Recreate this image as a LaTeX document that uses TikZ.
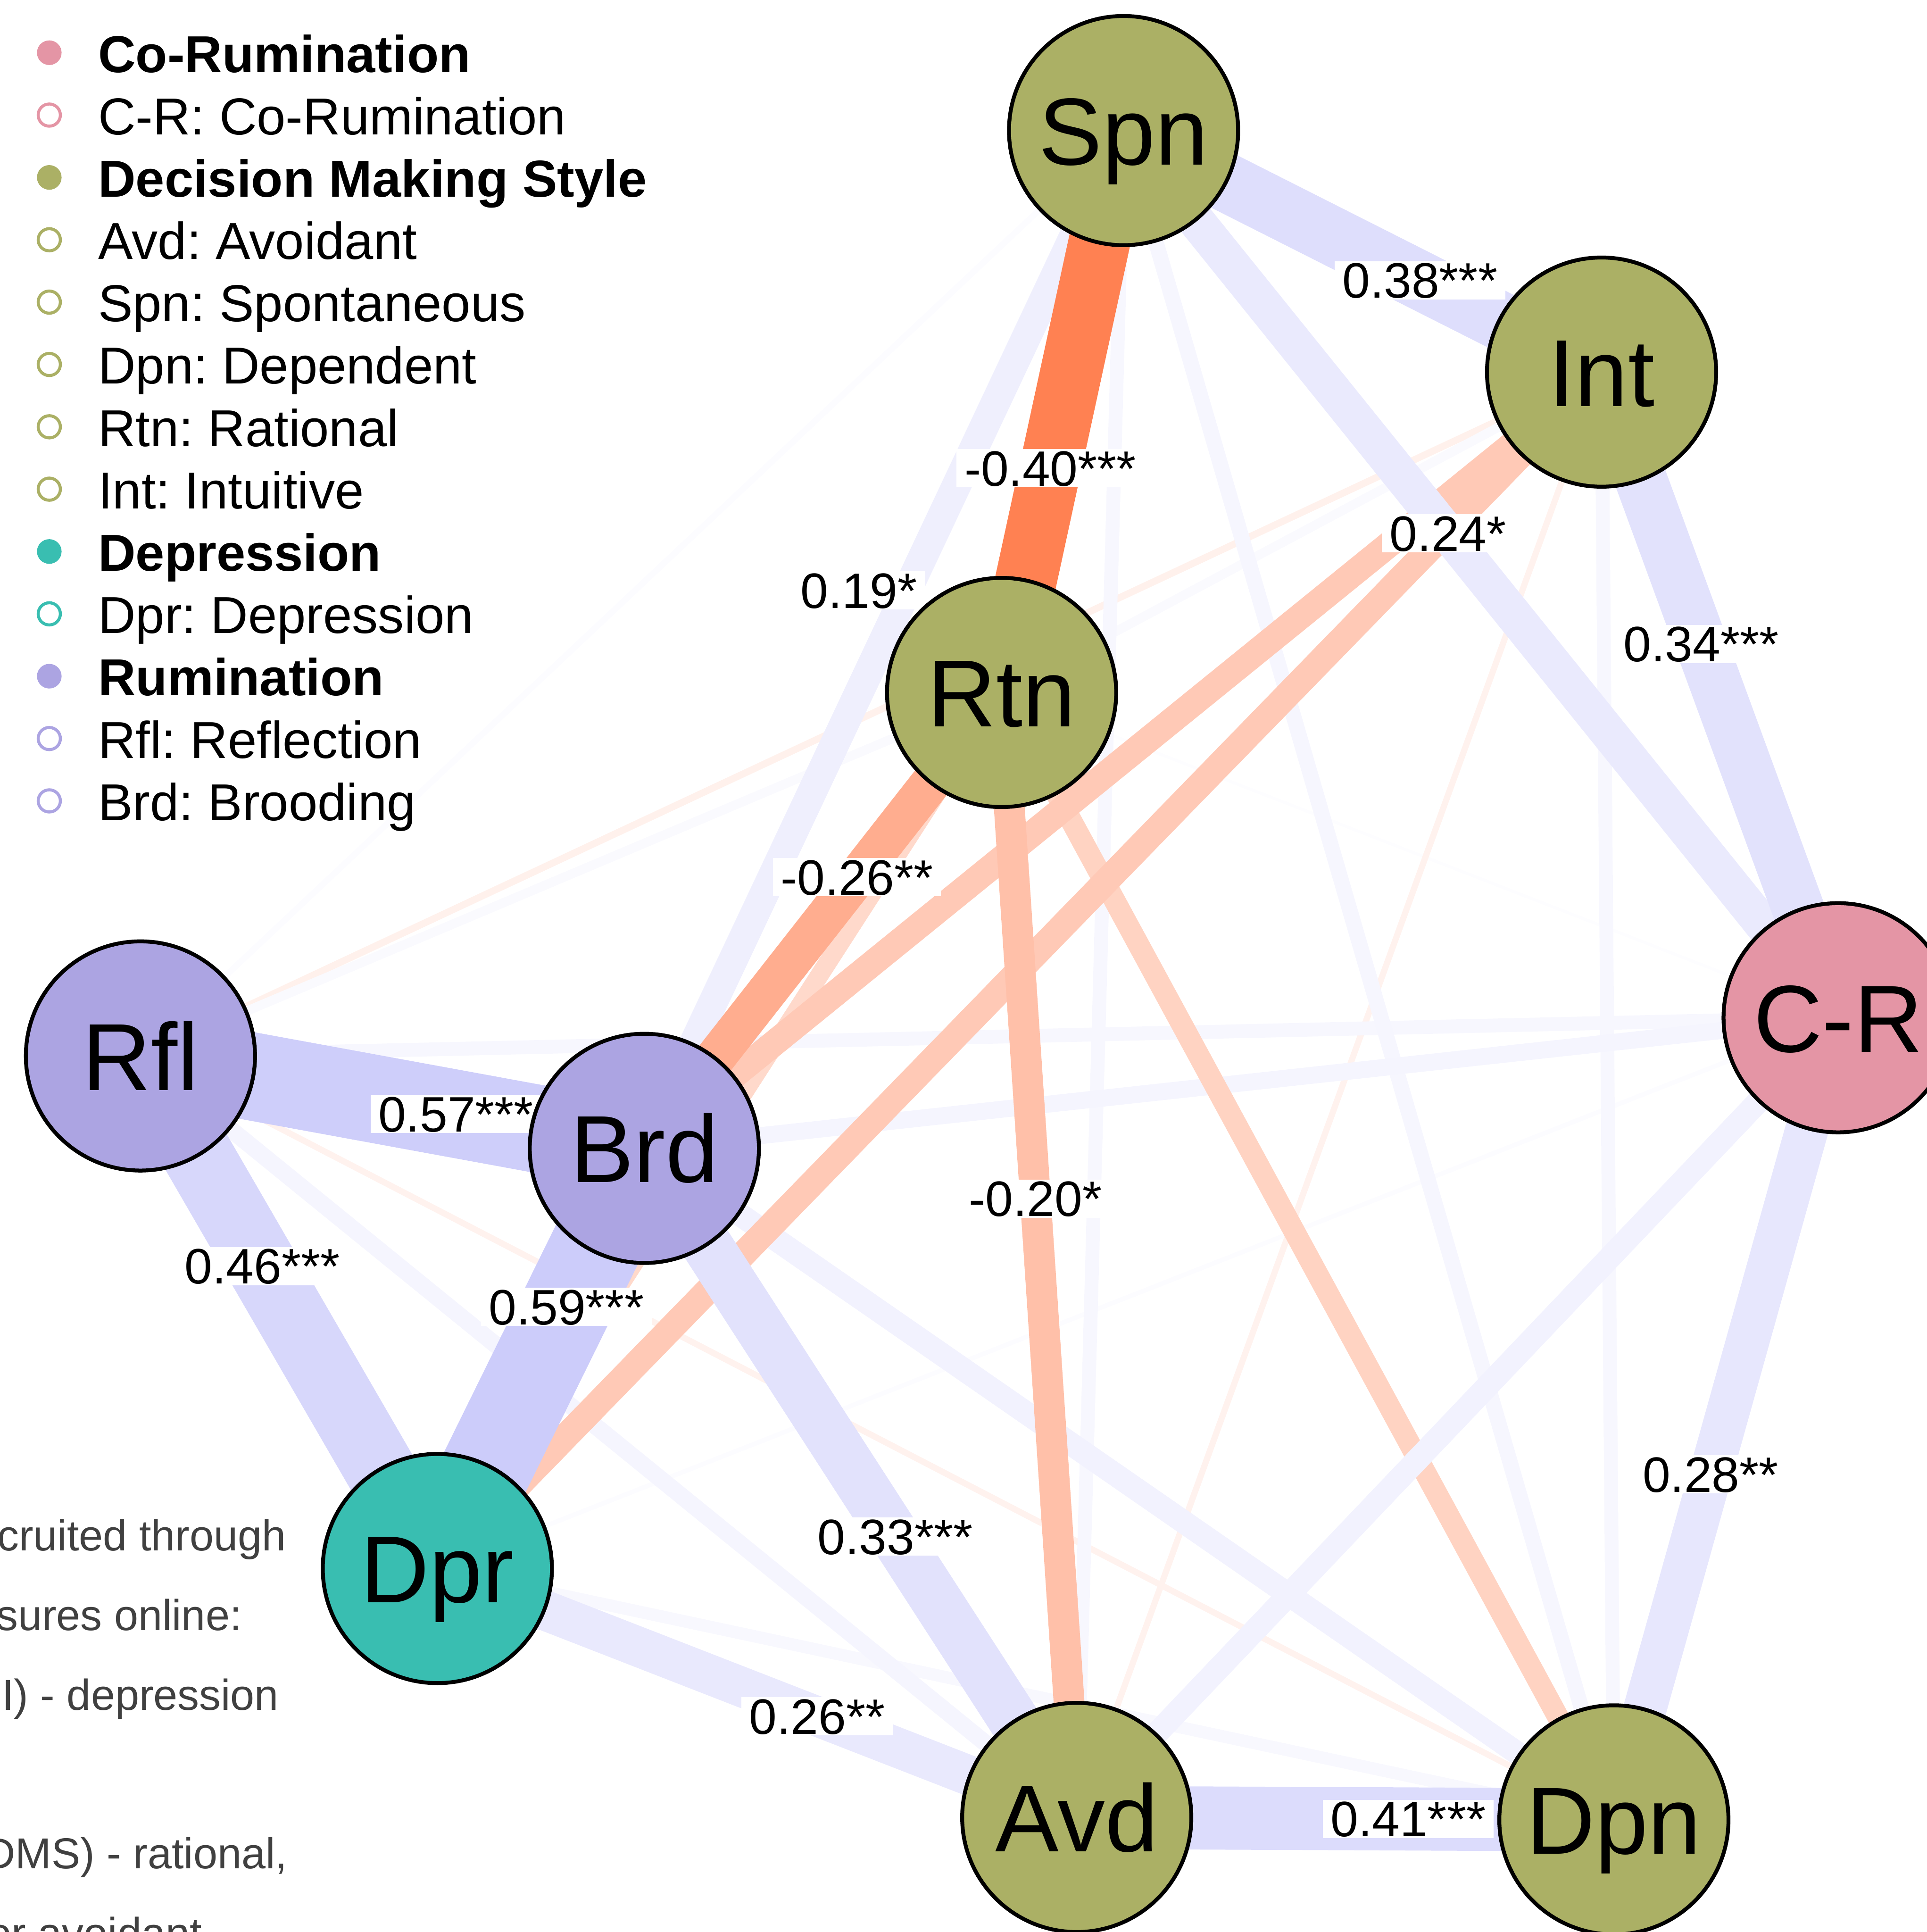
\documentclass[tikz,border=0pt]{standalone}
\usepackage{fontspec}
\setmainfont{Liberation Sans}
\frenchspacing
\pgfdeclarelayer{edgelayer}
\pgfdeclarelayer{labellayer}
\pgfsetlayers{edgelayer,labellayer,main}
\definecolor{PosC}{RGB}{204,204,250}
\definecolor{NegC}{RGB}{255,69,0}
\definecolor{CoR}{HTML}{E495A5}
\definecolor{DMS}{HTML}{ABB065}
\definecolor{Dep}{HTML}{39BEB1}
\definecolor{Rum}{HTML}{ACA4E2}
\definecolor{capgray}{HTML}{404040}
\tikzset{
  vnode/.style={circle, draw=black, line width=0.9pt, minimum size=1.86cm, inner sep=0pt,
    font=\fontsize{22}{26}\selectfont, text height=15.75pt, text depth=0pt},
  pe/.code={\pgfmathsetmacro\epct{min(100,100*#1/0.59)}\pgfmathsetmacro\ewd{#1*35.566}%
    \edef\etmp{\noexpand\tikzset{draw=PosC!\epct!white, line width=\ewd pt}}\etmp},
  ne/.code={\pgfmathsetmacro\epct{min(100,100*#1/0.59)}\pgfmathsetmacro\ewd{#1*35.566}%
    \edef\etmp{\noexpand\tikzset{draw=NegC!\epct!white, line width=\ewd pt}}\etmp},
  elbl/.style={fill=white, inner xsep=1.8pt, inner ysep=0.3pt, text height=8.2pt, text depth=0pt,
    font=\fontsize{11.5}{13}\selectfont},
  legtxt/.style={anchor=base west, inner sep=0pt, font=\fontsize{12}{14}\selectfont},
  legdot/.style={circle, inner sep=0pt, minimum size=0.2cm},
  legopen/.style={circle, inner sep=0pt, minimum size=0.18cm, line width=0.7pt},
  captxt/.style={anchor=base east, inner sep=0pt, text=capgray, font=\fontsize{10}{12}\selectfont},
}
\begin{document}
\begin{tikzpicture}
\useasboundingbox (0,0) rectangle (15.64,-15.68);
% ---- network nodes ----
\node[vnode, fill=DMS] (Spn) at (9.12,-1.06) {Spn};
\node[vnode, fill=DMS] (Int) at (13.00,-3.02) {Int};
\node[vnode, fill=DMS] (Rtn) at (8.13,-5.62) {Rtn};
\node[vnode, fill=CoR] (CR) at (14.92,-8.26) {C-R};
\node[vnode, fill=Rum] (Rfl) at (1.14,-8.57) {Rfl};
\node[vnode, fill=Rum] (Brd) at (5.23,-9.32) {Brd};
\node[vnode, fill=Dep] (Dpr) at (3.55,-12.73) {Dpr};
\node[vnode, fill=DMS] (Avd) at (8.74,-14.75) {Avd};
\node[vnode, fill=DMS] (Dpn) at (13.10,-14.77) {Dpn};
% ---- edges (weakest first) ----
\begin{pgfonlayer}{edgelayer}
\draw[pe=0.02] (Rtn.center) -- (CR.center);
\draw[pe=0.03] (CR.center) -- (Dpr.center);
\draw[pe=0.04] (Spn.center) -- (Rfl.center);
\draw[ne=0.045] (Int.center) -- (Rfl.center);
\draw[ne=0.04] (Int.center) -- (Avd.center);
\draw[pe=0.06] (Int.center) -- (Rtn.center);
\draw[pe=0.06] (Rtn.center) -- (Rfl.center);
\draw[ne=0.04] (Rfl.center) -- (Dpn.center);
\draw[pe=0.08] (Dpr.center) -- (Dpn.center);
\draw[pe=0.09] (Int.center) -- (Dpn.center);
\draw[pe=0.09] (CR.center) -- (Rfl.center);
\draw[pe=0.09] (Spn.center) -- (Avd.center);
\draw[pe=0.10] (Spn.center) -- (Dpn.center);
\draw[pe=0.11] (Rfl.center) -- (Avd.center);
\draw[pe=0.11] (CR.center) -- (Brd.center);
\draw[ne=0.12] (Rtn.center) -- (Dpr.center);
\draw[ne=0.14] (Rtn.center) -- (Dpn.center);
\draw[pe=0.15] (CR.center) -- (Avd.center);
\draw[pe=0.15] (Brd.center) -- (Dpn.center);
\draw[ne=0.17] (Int.center) -- (Brd.center);
\draw[ne=0.17] (Int.center) -- (Dpr.center);
\draw[pe=0.19] (Spn.center) -- (Brd.center);
\draw[ne=0.20] (Rtn.center) -- (Avd.center);
\draw[pe=0.24] (Spn.center) -- (CR.center);
\draw[ne=0.26] (Rtn.center) -- (Brd.center);
\draw[pe=0.26] (Dpr.center) -- (Avd.center);
\draw[pe=0.28] (CR.center) -- (Dpn.center);
\draw[pe=0.33] (Brd.center) -- (Avd.center);
\draw[pe=0.34] (Int.center) -- (CR.center);
\draw[pe=0.38] (Spn.center) -- (Int.center);
\draw[ne=0.40] (Spn.center) -- (Rtn.center);
\draw[pe=0.41] (Avd.center) -- (Dpn.center);
\draw[pe=0.46] (Rfl.center) -- (Dpr.center);
\draw[pe=0.57] (Rfl.center) -- (Brd.center);
\draw[pe=0.59] (Brd.center) -- (Dpr.center);
\end{pgfonlayer}
% ---- edge labels ----
\begin{pgfonlayer}{labellayer}
\path (Spn.center) -- (Int.center) node[elbl, pos=0.62] (lSI) {0.38***};
\path (Spn.center) -- (Rtn.center) node[elbl, pos=0.601] (lSR) {-0.40***};
\path (Spn.center) -- (CR.center) node[elbl, pos=0.454] (lSC) {0.24*};
\path (Int.center) -- (CR.center) node[elbl, pos=0.421] (lIC) {0.34***};
\path (Spn.center) -- (Brd.center) node[elbl, pos=0.47, xshift=-0.32cm, yshift=0.15cm] (lSB) {0.19*};
\path (Rtn.center) -- (Brd.center) node[elbl, pos=0.405] (lRB) {-0.26**};
\path (Rfl.center) -- (Brd.center) node[elbl, pos=0.626] (lFB) {0.57***};
\path (Rfl.center) -- (Dpr.center) node[elbl, pos=0.41] (lFD) {0.46***};
\path (Brd.center) -- (Dpr.center) node[elbl, pos=0.377] (lBD) {0.59***};
\path (Rtn.center) -- (Avd.center) node[elbl, pos=0.45] (lRA) {-0.20*};
\path (Brd.center) -- (Avd.center) node[elbl, pos=0.58] (lBA) {0.33***};
\path (CR.center) -- (Dpn.center) node[elbl, pos=0.569] (lCN) {0.28**};
\path (Dpr.center) -- (Avd.center) node[elbl, pos=0.594] (lDA) {0.26**};
\path (Avd.center) -- (Dpn.center) node[elbl, pos=0.617] (lAN) {0.41***};
\end{pgfonlayer}
% ---- legend ----
\node[legdot, fill=CoR] (d0) at (0.40,-0.428) {};
\node[legtxt] (t0) at (0.79,-0.586) {\bfseries Co-Rumination};
\node[legopen, draw=CoR] (d1) at (0.40,-0.934) {};
\node[legtxt] (t1) at (0.79,-1.092) {C-R: Co-Rumination};
\node[legdot, fill=DMS] (d2) at (0.40,-1.440) {};
\node[legtxt] (t2) at (0.79,-1.598) {\bfseries Decision Making Style};
\node[legopen, draw=DMS] (d3) at (0.40,-1.946) {};
\node[legtxt] (t3) at (0.79,-2.104) {Avd: Avoidant};
\node[legopen, draw=DMS] (d4) at (0.40,-2.452) {};
\node[legtxt] (t4) at (0.79,-2.610) {Spn: Spontaneous};
\node[legopen, draw=DMS] (d5) at (0.40,-2.958) {};
\node[legtxt] (t5) at (0.79,-3.116) {Dpn: Dependent};
\node[legopen, draw=DMS] (d6) at (0.40,-3.464) {};
\node[legtxt] (t6) at (0.79,-3.622) {Rtn: Rational};
\node[legopen, draw=DMS] (d7) at (0.40,-3.970) {};
\node[legtxt] (t7) at (0.79,-4.128) {Int: Intuitive};
\node[legdot, fill=Dep] (d8) at (0.40,-4.476) {};
\node[legtxt] (t8) at (0.79,-4.634) {\bfseries Depression};
\node[legopen, draw=Dep] (d9) at (0.40,-4.982) {};
\node[legtxt] (t9) at (0.79,-5.140) {Dpr: Depression};
\node[legdot, fill=Rum] (d10) at (0.40,-5.488) {};
\node[legtxt] (t10) at (0.79,-5.646) {\bfseries Rumination};
\node[legopen, draw=Rum] (d11) at (0.40,-5.994) {};
\node[legtxt] (t11) at (0.79,-6.152) {Rfl: Reflection};
\node[legopen, draw=Rum] (d12) at (0.40,-6.500) {};
\node[legtxt] (t12) at (0.79,-6.658) {Brd: Brooding};
% ---- partial caption text at left (cut off by the left edge, as in the reference) ----
\node[captxt] (c1) at (2.33,-12.586) {cruited through};
\node[captxt] (c2) at (1.97,-13.23) {sures online:};
\node[captxt] (c3) at (2.27,-13.88) {I) - depression};
\node[captxt] (c4) at (2.34,-15.166) {DMS) - rational,};
\node[captxt] (c5) at (1.645,-15.81) {or avoidant};
\end{tikzpicture}
\end{document}
